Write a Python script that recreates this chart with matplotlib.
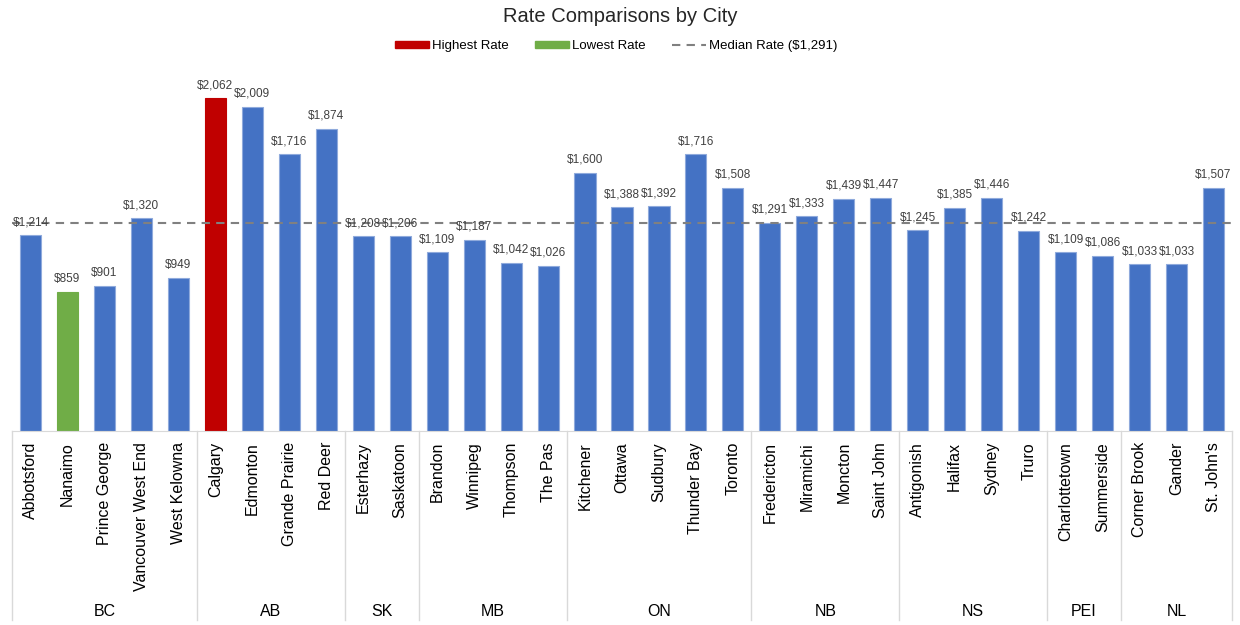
import matplotlib.pyplot as plt
import matplotlib.transforms as mtransforms
from matplotlib.patches import Patch
from matplotlib.lines import Line2D
import numpy as np

plt.rcParams['font.family'] = ['Liberation Sans', 'DejaVu Sans']

cities = ["Abbotsford", "Nanaimo", "Prince George", "Vancouver West End", "West Kelowna",
          "Calgary", "Edmonton", "Grande Prairie", "Red Deer",
          "Esterhazy", "Saskatoon",
          "Brandon", "Winnipeg", "Thompson", "The Pas",
          "Kitchener", "Ottawa", "Sudbury", "Thunder Bay", "Toronto",
          "Fredericton", "Miramichi", "Moncton", "Saint John",
          "Antigonish", "Halifax", "Sydney", "Truro",
          "Charlottetown", "Summerside",
          "Corner Brook", "Gander", "St. John's"]
rates = [1214, 859, 901, 1320, 949,
         2062, 2009, 1716, 1874,
         1208, 1206,
         1109, 1187, 1042, 1026,
         1600, 1388, 1392, 1716, 1508,
         1291, 1333, 1439, 1447,
         1245, 1385, 1446, 1242,
         1109, 1086,
         1033, 1033, 1507]
provinces = ["BC", "AB", "SK", "MB", "ON", "NB", "NS", "PEI", "NL"]
province_sizes = [5, 4, 2, 4, 5, 4, 4, 2, 3]
median_rate = 1291

blue = '#4472C4'
red = '#C00000'
green = '#70AD47'
text_col = '#404040'

fig = plt.figure(figsize=(12.4, 6.25), dpi=100)
ax = fig.add_axes([12 / 1240, 194 / 625, 1220 / 1240, 371 / 625])

x = np.arange(len(cities))
hi = int(np.argmax(rates))
lo = int(np.argmin(rates))
colors = [blue] * len(cities)
colors[hi] = red
colors[lo] = green
edges = ['#8FAADC'] * len(cities)
edges[hi] = red
edges[lo] = green

ax.bar(x, rates, width=0.57, color=colors, edgecolor=edges, linewidth=0.8, zorder=2)
ax.axhline(median_rate, color='#808080', linestyle=(0, (4, 3)), linewidth=1.5, zorder=3)

for xi, v in zip(x, rates):
    ax.annotate(f"${v:,}", (xi, v), xytext=(0, 5), textcoords='offset points',
                ha='center', va='bottom', fontsize=8.5, color=text_col, zorder=4)

ax.set_xlim(-0.5, len(cities) - 0.5)
ax.set_ylim(0, 2300)
ax.set_yticks([])
ax.set_xticks([])
for s in ['left', 'right', 'top']:
    ax.spines[s].set_visible(False)
ax.spines['bottom'].set_color('#D9D9D9')

trans = mtransforms.blended_transform_factory(ax.transData, ax.transAxes)
label_top = -11 / 371
line_bottom = -189 / 371
group_y = -180 / 371

for xi, name in zip(x, cities):
    ax.text(xi, label_top, name, rotation=90, ha='center', va='top',
            fontsize=11.5, color='black', transform=trans)

bounds = np.concatenate([[0], np.cumsum(province_sizes)])
for b in bounds:
    ax.plot([b - 0.5, b - 0.5], [0, line_bottom], color='#D9D9D9', linewidth=1,
            transform=trans, clip_on=False)
for p, start, n in zip(provinces, bounds[:-1], province_sizes):
    ax.text(start + (n - 1) / 2, group_y, p, ha='center', va='center',
            fontsize=11.5, color='black', transform=trans)

fig.suptitle("Rate Comparisons by City", y=1 - 16 / 625, va='center',
             fontsize=14.5, color='#262626')

handles = [Patch(color=red, label='Highest Rate'),
           Patch(color=green, label='Lowest Rate'),
           Line2D([0], [0], color='#808080', linestyle=(0, (4, 3)), linewidth=1.5,
                  label=f'Median Rate (${median_rate:,})')]
fig.legend(handles=handles, loc='center', bbox_to_anchor=(0.497, 1 - 46 / 625),
           ncol=3, frameon=False, fontsize=9.5, handlelength=2.6, handleheight=0.5,
           handletextpad=0.2, columnspacing=2.0)

fig.savefig('out.png', dpi=100)
